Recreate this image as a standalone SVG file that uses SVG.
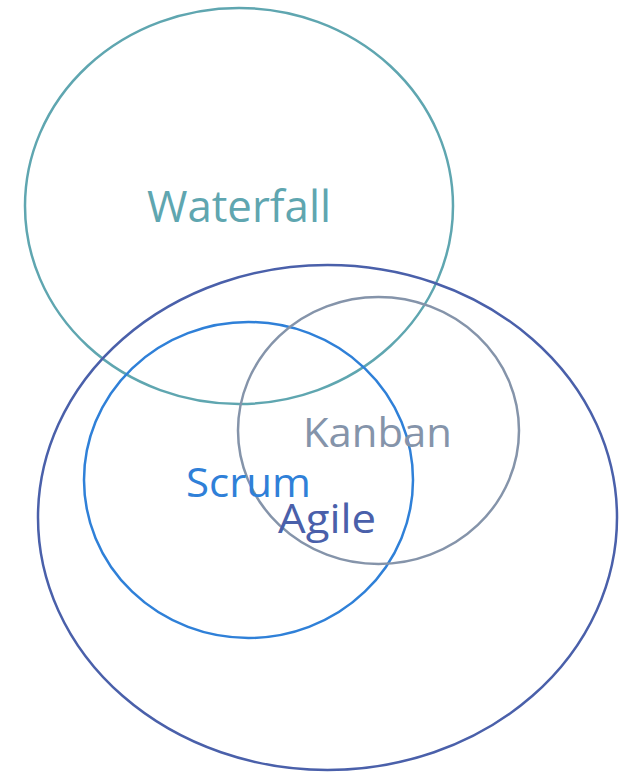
<svg xmlns="http://www.w3.org/2000/svg" width="623" height="772" viewBox="0 0 623 772">
<style>
.c{fill:none;stroke-width:2.5}
.t{font-family:"Open Sans","Noto Sans",sans-serif;text-anchor:middle}
</style>
<rect width="623" height="772" fill="#ffffff"/>
<g id="waterfall">
<ellipse class="c" cx="239" cy="206" rx="214" ry="198" stroke="#5fa6b0"/>
<text class="t" x="239" y="222" font-size="43" fill="#5fa6b0" textLength="184" lengthAdjust="spacingAndGlyphs">Waterfall</text>
</g>
<g id="agile">
<ellipse class="c" cx="327.5" cy="517.5" rx="289.5" ry="252.5" stroke="#4a60aa"/>
</g>
<g id="scrum">
<ellipse class="c" cx="248.5" cy="480" rx="164.5" ry="158" stroke="#2f80d8"/>
</g>
<g id="kanban">
<ellipse class="c" cx="378.5" cy="430.5" rx="140.5" ry="133.5" stroke="#8594aa"/>
<text class="t" x="377.5" y="447" font-size="41" fill="#8594aa" textLength="149" lengthAdjust="spacingAndGlyphs">Kanban</text>
</g>
<g id="labels">
<text class="t" x="248.5" y="497" font-size="41" fill="#2f80d8" textLength="125" lengthAdjust="spacingAndGlyphs">Scrum</text>
<text class="t" x="327" y="533" font-size="40" fill="#4a60aa" textLength="98" lengthAdjust="spacingAndGlyphs">Agile</text>
</g>
</svg>
